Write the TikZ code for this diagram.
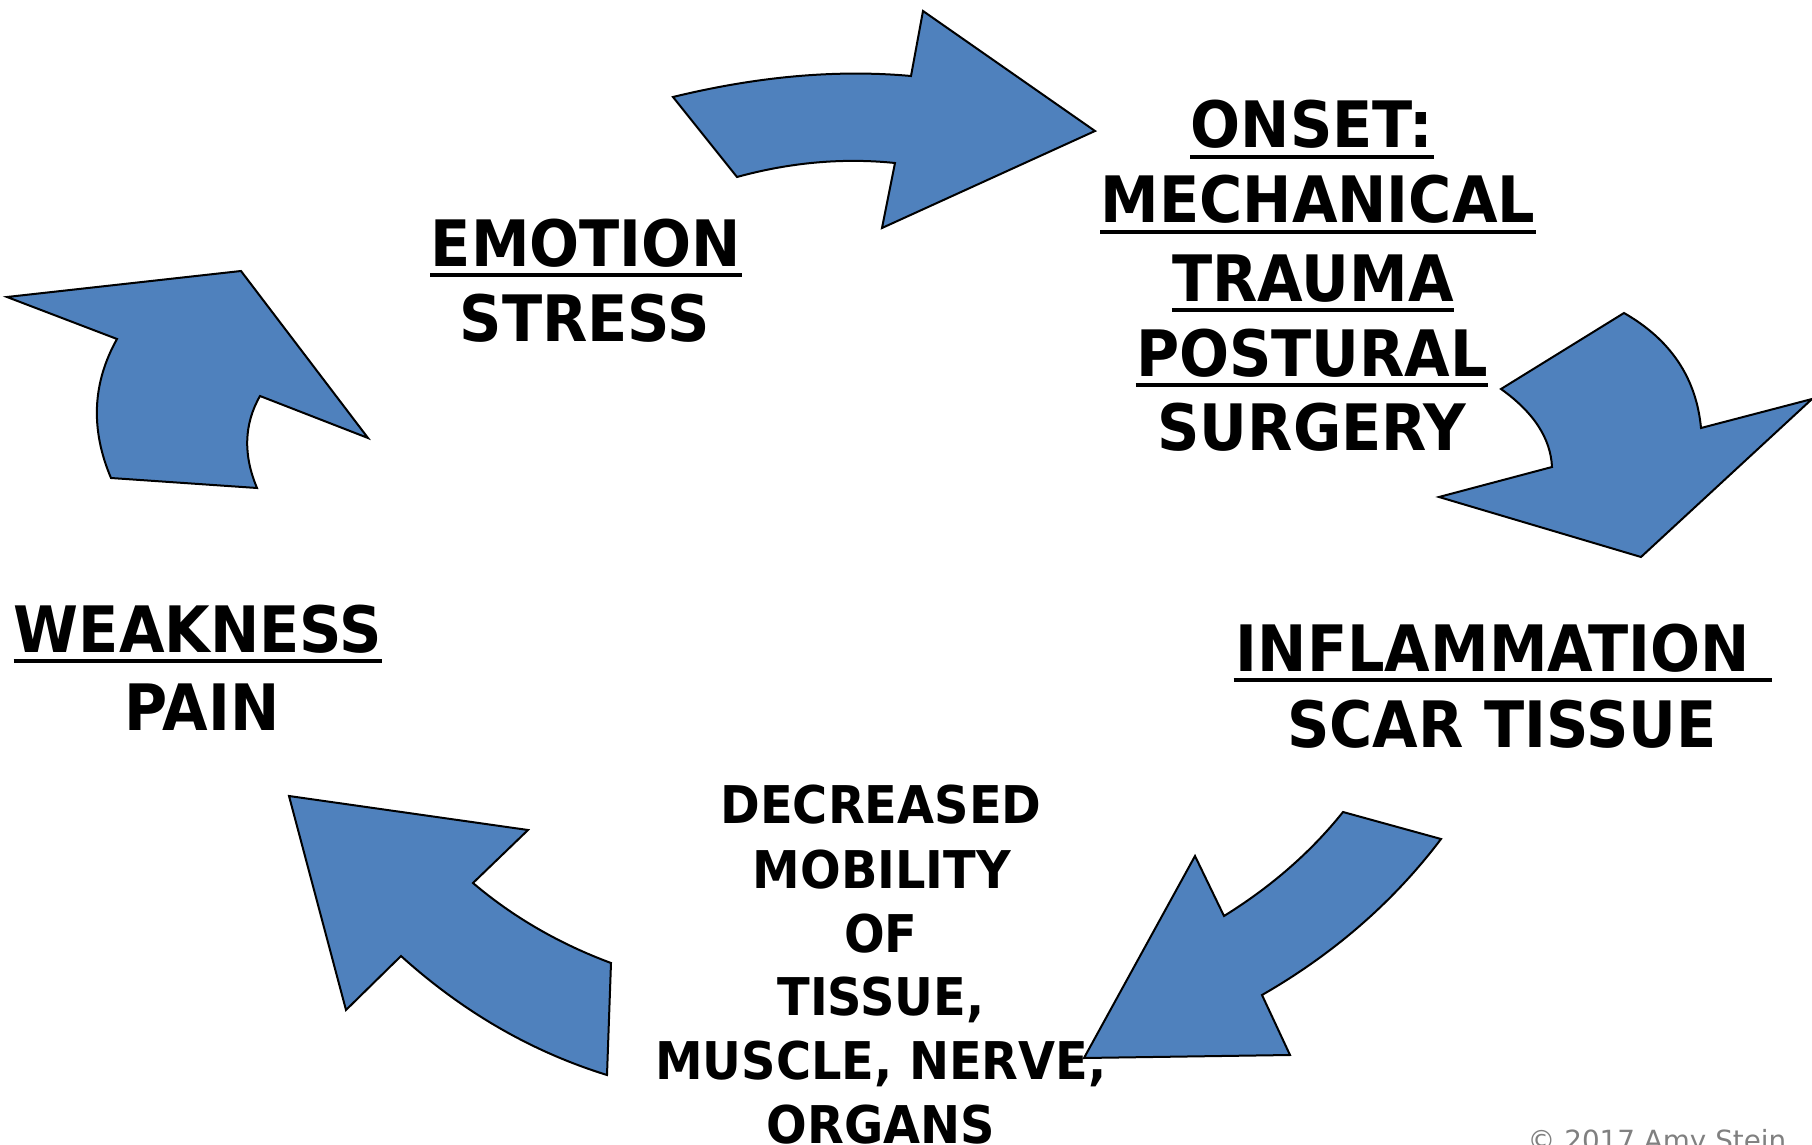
\documentclass[tikz,border=0pt]{standalone}
\usepackage{fontspec}
\usetikzlibrary{calc}
\newfontfamily\tah{DejaVu Sans}[FakeStretch=0.92]
\newfontfamily\verd{DejaVu Sans}
\definecolor{arrowblue}{HTML}{4F81BD}
% quadratic curve from #1 with control #2 to #3
\newcommand{\qcurve}[3]{.. controls ($(#1)!0.6667!(#2)$) and ($(#3)!0.6667!(#2)$) .. (#3)}
\begin{document}
\begin{tikzpicture}[x=0.5pt,y=-0.5pt,
  blockarrow/.style={fill=arrowblue, draw=black, line width=1pt, line join=miter},
  big/.style={inner sep=0pt, anchor=base, font=\tah\bfseries\fontsize{32}{38}\selectfont},
  small/.style={inner sep=0pt, anchor=base, font=\tah\bfseries\fontsize{26}{31}\selectfont},
  uline/.style={line width=2pt}]
\useasboundingbox[fill=white] (0,0) rectangle (1812,1145);

% top arrow
\draw[blockarrow] (673,97) \qcurve{673,97}{800,66}{911,76} -- (923,11) -- (1095,131) -- (882,228) -- (895,163) \qcurve{895,163}{817,155}{737,177} -- cycle;
% right arrow
\draw[blockarrow] (1624,313) \qcurve{1624,313}{1694,353}{1701,428} -- (1812,399) -- (1641,557) -- (1439,497) -- (1552,467) \qcurve{1552,467}{1550,424}{1501,389} -- cycle;
% bottom right arrow
\draw[blockarrow] (1441,839) -- (1343,812) \qcurve{1343,812}{1295,872}{1224,916} -- (1195,856) -- (1084,1058) -- (1290,1055) -- (1262,995) \qcurve{1262,995}{1370,933}{1441,839} -- cycle;
% bottom left arrow
\draw[blockarrow] (289,796) -- (528,830) -- (473,883) \qcurve{473,883}{533,934}{611,963} -- (607,1075) \qcurve{607,1075}{494,1040}{401,956} -- (346,1010) -- cycle;
% left arrow
\draw[blockarrow] (7,297) -- (241,271) -- (368,438) -- (260,396) \qcurve{260,396}{236,438}{257,488} -- (111,478) \qcurve{111,478}{80,405}{117,339} -- cycle;

% texts
\node[big] (emotion) at (586,266) {EMOTION};
\node[big] (stress) at (585,342) {STRESS};

\node[big] (onset) at (1312,148) {ONSET:};
\node[big] (mech) at (1318,223) {MECHANICAL};
\node[big] (trauma) at (1313,301) {TRAUMA};
\node[big] (postural) at (1312,376) {POSTURAL};
\node[big] (surgery) at (1312,450) {SURGERY};

\node[big] (infl) at (1493,671) {INFLAMMATION};
\node[big] (scar) at (1502,747) {SCAR TISSUE};

\node[big] (weak) at (198,652) {WEAKNESS};
\node[big] (pain) at (202,730) {PAIN};

\node[small] (dec1) at (881,823) {DECREASED};
\node[small] (dec2) at (882,888) {MOBILITY};
\node[small] (dec3) at (881,952) {OF};
\node[small] (dec4) at (881,1015) {TISSUE,};
\node[small] (dec5) at (881,1079) {MUSCLE, NERVE,};
\node[small] (dec6) at (881,1143) {ORGANS};

\node[inner sep=0pt, anchor=base, text=black!50, font=\verd\fontsize{13.9}{16}\selectfont] (copy) at (1657,1150) {© 2017 Amy Stein};

% underlines
\foreach \n in {emotion,onset,mech,trauma,postural,weak}{
  \draw[uline] ([yshift=-4.5pt]\n.base west) -- ([yshift=-4.5pt]\n.base east);
}
\draw[uline] ([yshift=-4.5pt,xshift=-1pt]infl.base west) -- ([yshift=-4.5pt,xshift=11pt]infl.base east);
\end{tikzpicture}
\end{document}
